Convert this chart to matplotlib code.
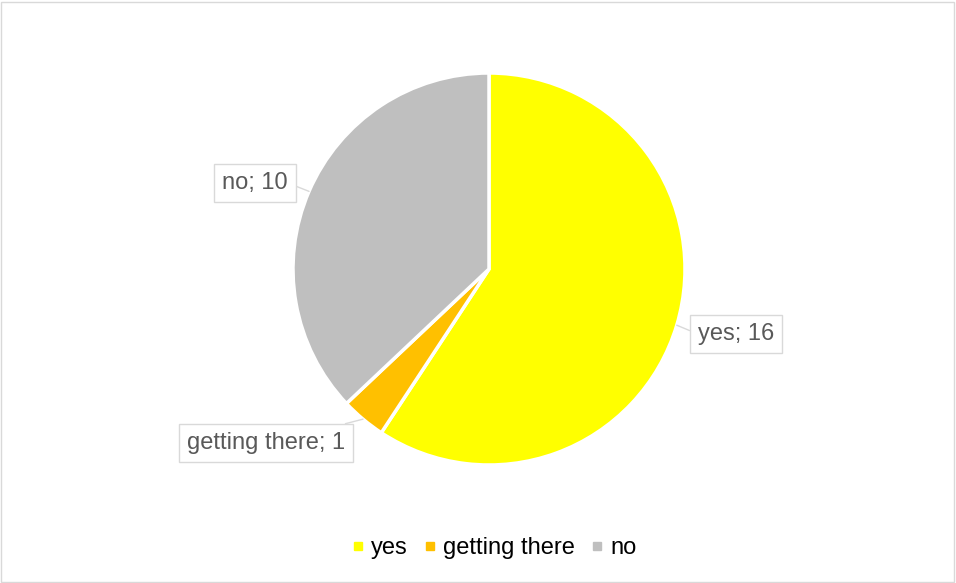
import numpy as np
import matplotlib.pyplot as plt
from matplotlib.patches import Rectangle

plt.rcParams['font.family'] = ['Liberation Sans', 'DejaVu Sans']

labels = ['yes', 'getting there', 'no']
values = [16, 1, 10]
colors = ['#FFFF00', '#FFC000', '#BFBFBF']

# label box centres (pixel coords, y up) and where the leader leaves the box
label_pos = [(736, 249), (266, 140), (255, 400)]
rel_pos = [(0.0, 0.5), (0.8, 1.0), (1.0, 0.5)]

W, H = 956, 583
fig = plt.figure(figsize=(W / 100, H / 100), dpi=100)
ax = fig.add_axes([0, 0, 1, 1])

cx, cy, r = 489, 314, 196
wedges, _ = ax.pie(values, colors=colors, startangle=90, counterclock=False,
                   center=(cx, cy), radius=r,
                   wedgeprops=dict(edgecolor='white', linewidth=2.5))

for w, lab, v, pos, rp in zip(wedges, labels, values, label_pos, rel_pos):
    mid = np.deg2rad((w.theta1 + w.theta2) / 2)
    xy = (cx + r * np.cos(mid), cy + r * np.sin(mid))
    ax.annotate(f'{lab}; {v}', xy=xy, xytext=pos, ha='center', va='center',
                fontsize=17, color='#595959',
                bbox=dict(boxstyle='square,pad=0.33', fc='white', ec='#D9D9D9', lw=1),
                arrowprops=dict(arrowstyle='-', color='#D9D9D9', lw=1,
                                relpos=rp, shrinkA=0, shrinkB=0))

# chart border
ax.add_patch(Rectangle((1, 1), W - 3, H - 3, fill=False, edgecolor='#D9D9D9', lw=1))

ax.set_xlim(0, W)
ax.set_ylim(0, H)
ax.set_aspect('equal')
ax.axis('off')

handles = [plt.Line2D([], [], marker='s', ls='', color=c, markersize=5.5) for c in colors]
ax.legend(handles, labels, loc='center', bbox_to_anchor=(494 / W, 1 - 548 / H),
          ncol=3, frameon=False, fontsize=17, handletextpad=0.3,
          columnspacing=0.7, handlelength=0.5)

fig.savefig('out.png', dpi=100)
